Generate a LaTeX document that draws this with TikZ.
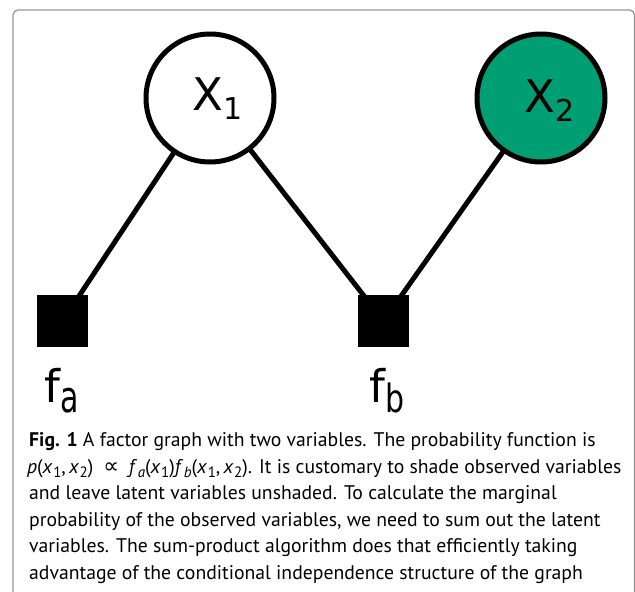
\documentclass[tikz,border=0pt]{standalone}
\usepackage{fontspec}
\usepackage{graphicx}
\setmainfont{PT Sans}
\newfontfamily\nodefont{DejaVu Sans}
\newfontfamily\symfont{DejaVu Sans}
\usetikzlibrary{backgrounds}
\definecolor{obsgreen}{RGB}{0,158,115}
\definecolor{framegray}{RGB}{150,150,150}
\newcommand\lsub[1]{\raisebox{-9pt}{\fontsize{30}{30}\selectfont #1}}
\newcommand\lsubl[2]{\raisebox{-10pt}{\scalebox{1}[#1]{\fontsize{30}{30}\selectfont #2}}}
\newcommand\csub[1]{\raisebox{-0.22em}{\fontsize{15}{15}\selectfont\kern0.5pt #1}}
\begin{document}
\begin{tikzpicture}[x=1pt,y=-1pt,
  var/.style={circle, draw=black, line width=5pt, minimum size=128pt, inner sep=0pt},
  fac/.style={rectangle, fill=black, minimum size=51.5pt, inner sep=0pt},
  edge/.style={line width=5pt},
  lab/.style={inner sep=0pt, anchor=base west, font=\nodefont\fontsize{45}{45}\selectfont},
  captxt/.style={inner sep=0pt, anchor=base west, font=\fontsize{19.7}{19.7}\selectfont}]
\useasboundingbox (0,0) rectangle (635,592);
\draw[framegray, line width=1.3pt, rounded corners=5pt] (13,10) rectangle (634.5,700);

\node[var, fill=white] (x1) at (210,98) {};
\node[var, fill=obsgreen] (x2) at (541,98) {};
\node[fac] (fa) at (62.5,321) {};
\node[fac] (fb) at (383.5,321) {};

\begin{scope}[on background layer]
\draw[edge] (x1.center) -- (fa.center);
\draw[edge] (x1.center) -- (fb.center);
\draw[edge] (x2.center) -- (fb.center);
\end{scope}

\node[lab] (x1l) at (192,110) {X\lsub{1}};
\node[lab] (x2l) at (524,112) {X\lsub{2}};
\node[lab] (fal) at (44,402) {f\lsubl{1.45}{a}};
\node[lab] (fbl) at (369,402) {f\lsubl{1.3}{b}};

\node[captxt] (c1) at (29,446.5) {\textbf{Fig. 1} A factor graph with two variables. The probability function is};
\node[captxt] (c2) at (27,473.1) {\textit{p}(\textit{x}\csub{1},\,\textit{x}\csub{2})\enspace{\symfont\fontsize{22}{22}\selectfont ∝}\enspace\textit{f}\csub{\textit{a}}(\textit{x}\csub{1})\textit{f}\csub{\textit{b}}(\textit{x}\csub{1},\,\textit{x}\csub{2}). It is customary to shade observed variables};
\node[captxt] (c3) at (29,499.7) {and leave latent variables unshaded. To calculate the marginal};
\node[captxt] (c4) at (29,526.3) {probability of the observed variables, we need to sum out the latent};
\node[captxt] (c5) at (29,552.9) {variables. The sum-product algorithm does that efficiently taking};
\node[captxt] (c6) at (29,579.5) {advantage of the conditional independence structure of the graph};
\end{tikzpicture}
\end{document}
